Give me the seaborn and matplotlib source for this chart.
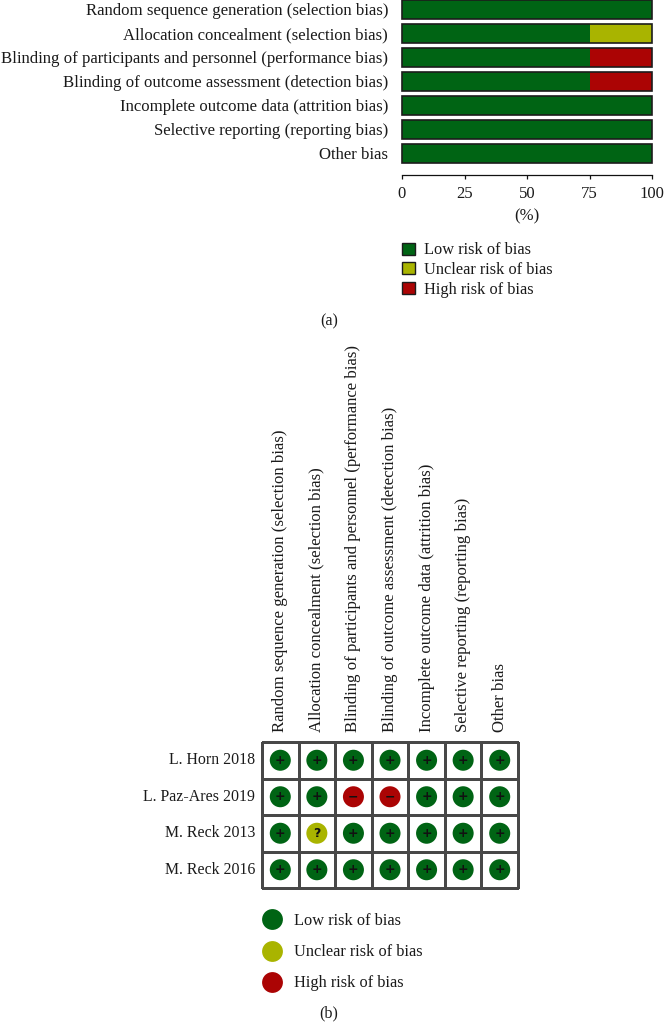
import numpy as np
import pandas as pd
import seaborn as sns
import matplotlib.pyplot as plt
from matplotlib.patches import Patch
from matplotlib.lines import Line2D

sns.set_theme(style="white")
plt.rcParams['font.family'] = ['Liberation Serif', 'DejaVu Sans']

# Risk of bias domains
domains = ["Random sequence generation (selection bias)",
           "Allocation concealment (selection bias)",
           "Blinding of participants and personnel (performance bias)",
           "Blinding of outcome assessment (detection bias)",
           "Incomplete outcome data (attrition bias)",
           "Selective reporting (reporting bias)",
           "Other bias"]
low_pct = [100, 75, 75, 75, 100, 100, 100]
unclear_pct = [0, 25, 0, 0, 0, 0, 0]
high_pct = [0, 0, 25, 25, 0, 0, 0]
pct_ticks = [0, 25, 50, 75, 100]

# Per study judgements
studies = ["L. Horn 2018", "L. Paz-Ares 2019", "M. Reck 2013", "M. Reck 2016"]
horn = ["+", "+", "+", "+", "+", "+", "+"]
paz_ares = ["+", "+", "-", "-", "+", "+", "+"]
reck_2013 = ["+", "?", "+", "+", "+", "+", "+"]
reck_2016 = ["+", "+", "+", "+", "+", "+", "+"]

GREEN = "#006414"
OLIVE = "#a9b400"
RED = "#ab0404"
EDGE = "#1c1c1c"
INK = "#1a1a1a"
W, H = 664, 1022
FS = 12.1     # domain labels
FS_SM = 11.6  # study names, captions
FS_LEG = 11.8  # legends


def px_axes(x0, y0, x1, y1):
    # axes from pixel box, y counted from the top
    return fig.add_axes([x0 / W, 1 - y1 / H, (x1 - x0) / W, (y1 - y0) / H])


fig = plt.figure(figsize=(W / 100, H / 100), dpi=100)

# (a) stacked bars, outline drawn last so the segments have no divider
ax = px_axes(402, -3, 652, 175.5)
low = np.array(low_pct)
mid = low + np.array(unclear_pct)
top = mid + np.array(high_pct)
for vals, col in [(top, RED), (mid, OLIVE), (low, GREEN)]:
    sns.barplot(x=vals, y=domains, color=col, width=0.79, saturation=1, linewidth=0, ax=ax)
sns.barplot(x=top, y=domains, color=EDGE, width=0.79, saturation=1, fill=False, linewidth=1.2, ax=ax)
for bar in ax.patches:
    bar.set_clip_on(False)
ax.set_xlim(0, 100)
ax.set_ylim(6.92, -0.52)
ax.set_xticks(pct_ticks)
ax.set_xticklabels(pct_ticks, fontsize=FS_SM + 0.4, color=INK)
ax.set_xlabel("(%)", fontsize=FS_SM + 0.4, color=INK, labelpad=5)
ax.tick_params(axis="x", bottom=True, length=3, width=0.9, color="#111111", pad=4.5, direction="out")
ax.tick_params(axis="y", left=False, length=0, pad=10, labelsize=FS, labelcolor=INK)
ax.set_ylabel("")
sns.despine(ax=ax, left=True)
ax.spines["bottom"].set_color("#111111")
ax.spines["bottom"].set_linewidth(0.9)

risk_labels = ["Low risk of bias", "Unclear risk of bias", "High risk of bias"]
risk_colors = [GREEN, OLIVE, RED]
bar_handles = [Patch(facecolor=c, edgecolor=EDGE, linewidth=1.0, label=l)
               for c, l in zip(risk_colors, risk_labels)]
fig.legend(handles=bar_handles, loc="upper left", bbox_to_anchor=(399 / W, 1 - 239 / H),
           frameon=False, fontsize=FS_LEG, handlelength=0.75, handleheight=0.75,
           handletextpad=0.6, labelspacing=0.24, labelcolor=INK,
           borderpad=0.2, borderaxespad=0)
fig.text(329 / W, 1 - 321 / H, "(a)", ha="center", va="center", fontsize=FS_SM, color=INK)

# (b) study grid
ax2 = px_axes(262, 742, 518, 888)
grid = pd.DataFrame([horn, paz_ares, reck_2013, reck_2016], index=studies, columns=domains)
sns.heatmap(np.zeros(grid.shape), cmap=["white"], cbar=False, linewidths=0.8, linecolor="#484848",
            xticklabels=domains, yticklabels=studies, ax=ax2, clip_on=False)
long = grid.reset_index(names="study").melt(id_vars="study", var_name="domain", value_name="risk")
long["cx"] = long["domain"].map({d: i + 0.5 for i, d in enumerate(domains)})
long["cy"] = long["study"].map({s: i + 0.5 for i, s in enumerate(studies)})
sns.scatterplot(data=long, x="cx", y="cy", hue="risk", hue_order=["+", "?", "-"],
                palette=[GREEN, OLIVE, RED], s=229, linewidth=0, legend=False, ax=ax2, zorder=3)
for row in long.itertuples():
    sign = "\u2212" if row.risk == "-" else row.risk
    ax2.text(row.cx, row.cy, sign, ha="center", va="center", fontsize=9,
             fontweight="bold", color="#111111", family="DejaVu Sans", zorder=4)
ax2.set_xlabel("")
ax2.set_ylabel("")
ax2.xaxis.tick_top()
ax2.tick_params(axis="both", length=0)
ax2.tick_params(axis="x", pad=7, labelsize=FS, labelcolor=INK, labelrotation=90)
ax2.tick_params(axis="y", pad=5, labelsize=FS_SM - 0.2, labelcolor=INK, labelrotation=0)
for lab in ax2.get_xticklabels():
    lab.set_ha("center")
    lab.set_va("bottom")

dot_handles = [Line2D([], [], marker="o", linestyle="", markersize=15, markerfacecolor=c,
                      markeredgewidth=0, label=l) for c, l in zip(risk_colors, risk_labels)]
fig.legend(handles=dot_handles, loc="upper left", bbox_to_anchor=(261 / W, 1 - 913 / H),
           frameon=False, fontsize=FS_LEG, handlelength=1.3, handletextpad=0.73,
           labelspacing=0.93, labelcolor=INK, borderpad=0, borderaxespad=0)
fig.text(329 / W, 1 - 1013 / H, "(b)", ha="center", va="center", fontsize=FS_SM, color=INK)

fig.savefig("out.png", dpi=100, facecolor="white")
